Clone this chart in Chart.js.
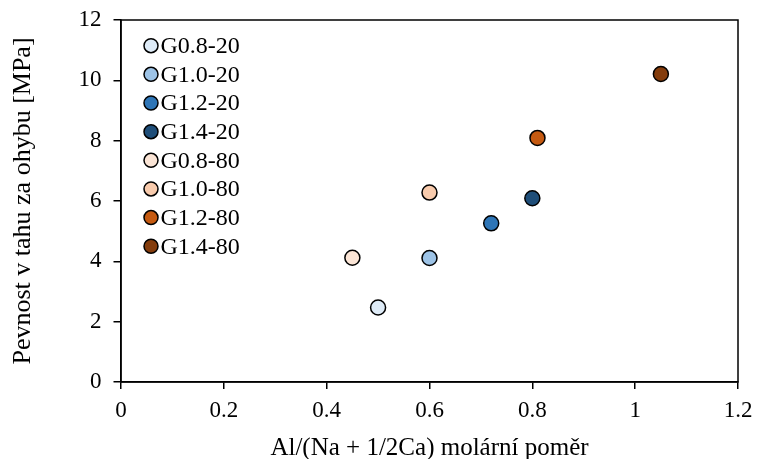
<!DOCTYPE html>
<html>
<head>
<meta charset="utf-8">
<script src="https://cdn.jsdelivr.net/npm/chart.js@4/dist/chart.umd.min.js"></script>
<style>
  html, body { margin: 0; padding: 0; background: #fff; overflow: hidden; }
  #wrap { position: relative; width: 757px; height: 459px; }
</style>
</head>
<body>
<div id="wrap"><canvas id="c"></canvas></div>
<script>
// ---- data ----
const categories = ['G0.8-20', 'G1.0-20', 'G1.2-20', 'G1.4-20', 'G0.8-80', 'G1.0-80', 'G1.2-80', 'G1.4-80'];
const xValues = [0.50, 0.60, 0.72, 0.80, 0.45, 0.60, 0.81, 1.05];
const yValues = [2.47, 4.11, 5.26, 6.09, 4.12, 6.28, 8.09, 10.21];
const xTickLabels = ['0', '0.2', '0.4', '0.6', '0.8', '1', '1.2'];
const yTickLabels = ['0', '2', '4', '6', '8', '10', '12'];
const xTitle = 'Al/(Na + 1/2Ca) molární poměr';
const yTitle = 'Pevnost v tahu za ohybu [MPa]';

// ---- styles ----
const palette = ['#deebf7', '#9dc3e6', '#2e75b6', '#1f4e79', '#fbe5d6', '#f8cbad', '#c55a11', '#843c0c'];
const FONT = '"Liberation Serif", "Times New Roman", serif';

const datasets = categories.map((name, i) => ({
  label: name,
  data: [{ x: xValues[i], y: yValues[i] }],
  backgroundColor: palette[i],
  borderColor: '#000',
  borderWidth: 1.5,
  pointRadius: 7.5,
  pointHoverRadius: 7.5,
  pointStyle: 'circle'
}));

// frame around plot area + legend inside plot area
const frameAndLegend = {
  id: 'frameAndLegend',
  beforeDatasetsDraw(chart) {
    const { ctx, chartArea: a } = chart;
    ctx.save();
    ctx.strokeStyle = '#000';
    ctx.lineWidth = 1.5;
    ctx.strokeRect(a.left, a.top, a.right - a.left, a.bottom - a.top);
    ctx.restore();
  },
  afterDraw(chart) {
    const { ctx, chartArea: a } = chart;
    const cx = a.left + 30, y0 = a.top + 25.7, step = 28.65, r = 7;
    ctx.save();
    ctx.font = '24px ' + FONT;
    ctx.textBaseline = 'middle';
    ctx.textAlign = 'left';
    chart.data.datasets.forEach((ds, i) => {
      const cy = y0 + i * step;
      ctx.beginPath();
      ctx.arc(cx, cy, r, 0, Math.PI * 2);
      ctx.fillStyle = ds.backgroundColor;
      ctx.fill();
      ctx.lineWidth = 1.5;
      ctx.strokeStyle = '#000';
      ctx.stroke();
      ctx.fillStyle = '#000';
      ctx.fillText(ds.label, cx + 9.5, cy + 1);
    });
    ctx.restore();
  }
};

new Chart(document.getElementById('c'), {
  type: 'scatter',
  data: { datasets },
  plugins: [frameAndLegend],
  options: {
    responsive: true,
    maintainAspectRatio: false,
    animation: false,
    layout: { padding: { top: 20, right: 19, left: 0, bottom: 0 } },
    plugins: {
      tooltip: { enabled: false },
      legend: { display: false }
    },
    scales: {
      x: {
        type: 'linear',
        min: 0, max: 1.2,
        afterFit(s) { s.height = 77; s.paddingLeft = 0; s.paddingRight = 0; },
        border: { display: true, color: '#000', width: 1.5 },
        grid: { drawOnChartArea: false, drawTicks: true, tickLength: 7, color: '#000', lineWidth: 1.5 },
        ticks: {
          stepSize: 0.2,
          padding: 8,
          color: '#000',
          font: { family: FONT, size: 23 },
          maxRotation: 0,
          callback: (v, i) => xTickLabels[i]
        },
        title: {
          display: true,
          text: xTitle,
          color: '#000',
          font: { family: FONT, size: 25 },
          padding: { top: 0, bottom: -4 }
        }
      },
      y: {
        type: 'linear',
        min: 0, max: 12,
        afterFit(s) { s.width = 121; s.paddingTop = 0; s.paddingBottom = 0; },
        border: { display: true, color: '#000', width: 1.5 },
        grid: { drawOnChartArea: false, drawTicks: true, tickLength: 7.5, color: '#000', lineWidth: 1.5 },
        ticks: {
          stepSize: 2,
          padding: 12,
          color: '#000',
          font: { family: FONT, size: 23 },
          callback: (v, i) => yTickLabels[i]
        },
        title: {
          display: true,
          text: yTitle,
          color: '#000',
          font: { family: FONT, size: 26 },
          padding: { top: 7.5, bottom: 0 }
        }
      }
    }
  }
});
</script>
</body>
</html>
